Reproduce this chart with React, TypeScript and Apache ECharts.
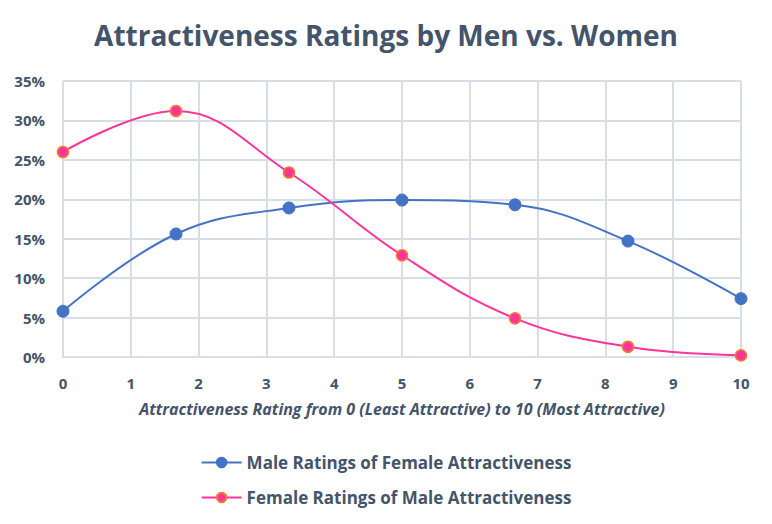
import React, { useEffect, useRef } from "react";
import * as echarts from "echarts";

const xValues = [0, 1.667, 3.333, 5, 6.667, 8.333, 10];
const maleRatings = [5.8, 15.6, 18.9, 19.9, 19.3, 14.7, 7.4];
const femaleRatings = [26.0, 31.2, 23.4, 12.9, 4.9, 1.3, 0.2];
const seriesNames = ["Male Ratings of Female Attractiveness", "Female Ratings of Male Attractiveness"];
const titleText = "Attractiveness Ratings by Men vs. Women";
const xAxisName = "Attractiveness Rating from 0 (Least Attractive) to 10 (Most Attractive)";

const textColor = "#44546A";
const gridColor = "#D9DEE6";

export default function App() {
  const ref = useRef<HTMLDivElement>(null);
  useEffect(() => {
    if (!ref.current) return;
    const chart = echarts.init(ref.current, null, { renderer: "svg" });
    const font = "'Open Sans', sans-serif";
    chart.setOption({
      animation: false,
      backgroundColor: "#fff",
      title: {
        text: titleText,
        left: "center",
        top: 16,
        textStyle: { fontFamily: font, fontSize: 28, fontWeight: "bold", color: textColor },
      },
      grid: { left: 63, right: 31, top: 81, bottom: 167 },
      xAxis: {
        type: "value",
        min: 0,
        max: 10,
        interval: 1,
        name: xAxisName,
        nameLocation: "middle",
        nameGap: 44,
        nameTextStyle: { fontFamily: font, fontSize: 16, fontWeight: "bold", fontStyle: "italic", color: textColor },
        axisLine: { show: true, lineStyle: { color: gridColor, width: 2 } },
        axisTick: { show: false },
        axisLabel: { fontFamily: font, fontSize: 15, fontWeight: "bold", color: textColor, margin: 18 },
        splitLine: { show: true, lineStyle: { color: gridColor, width: 2 } },
      },
      yAxis: {
        type: "value",
        min: 0,
        max: 35,
        interval: 5,
        axisLine: { show: false },
        axisTick: { show: false },
        axisLabel: { fontFamily: font, fontSize: 15, fontWeight: "bold", color: textColor, margin: 18, formatter: "{value}%" },
        splitLine: { show: true, lineStyle: { color: gridColor, width: 2 } },
      },
      legend: {
        orient: "vertical",
        left: "center",
        top: 449,
        itemGap: 18,
        itemWidth: 40,
        itemHeight: 12,
        textStyle: { fontFamily: font, fontSize: 17, fontWeight: "bold", color: textColor },
        data: seriesNames,
      },
      series: [
        {
          name: seriesNames[0],
          type: "line",
          smooth: 0.4,
          data: xValues.map((x, i) => [x, maleRatings[i]]),
          symbol: "circle",
          symbolSize: 12,
          lineStyle: { color: "#4472C4", width: 2 },
          itemStyle: { color: "#4472C4", borderColor: "#4472C4", borderWidth: 1 },
        },
        {
          name: seriesNames[1],
          type: "line",
          smooth: 0.4,
          data: xValues.map((x, i) => [x, femaleRatings[i]]),
          symbol: "circle",
          symbolSize: 11,
          lineStyle: { color: "#FF3399", width: 2 },
          itemStyle: { color: "#FF3399", borderColor: "#ED7D31", borderWidth: 1.5 },
        },
      ],
    });
    return () => chart.dispose();
  }, []);
  return <div ref={ref} style={{ width: 772, height: 524, margin: -8 }} />;
}
